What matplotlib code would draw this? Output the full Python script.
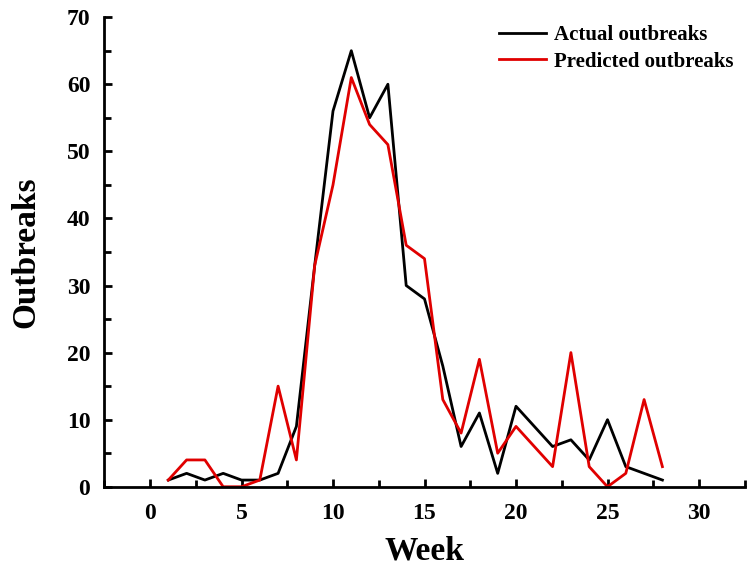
import matplotlib.pyplot as plt
from matplotlib.ticker import MultipleLocator

weeks = list(range(1, 29))
actual = [1, 2, 1, 2, 1, 1, 2, 9, 33, 56, 65, 55, 60, 30,
          28, 18, 6, 11, 2, 12, 9, 6, 7, 4, 10, 3, 2, 1]
predicted = [1, 4, 4, 0, 0, 1, 15, 4, 33, 45, 61, 54, 51, 36,
             34, 13, 8, 19, 5, 9, 6, 3, 20, 3, 0, 2, 13, 3]

plt.rcParams["font.family"] = "Liberation Serif"
plt.rcParams["font.weight"] = "bold"

fig = plt.figure(figsize=(7.5, 5.72), dpi=100)
ax = fig.add_axes([0.139, 0.149, 0.854, 0.821])

ax.plot(weeks, actual, color="black", lw=2, label="Actual outbreaks")
ax.plot(weeks, predicted, color="#e00000", lw=2, label="Predicted outbreaks")

ax.set_xlim(-2.5, 32.5)
ax.set_ylim(0, 70)
ax.xaxis.set_major_locator(MultipleLocator(5))
ax.xaxis.set_minor_locator(MultipleLocator(2.5))
ax.yaxis.set_major_locator(MultipleLocator(10))
ax.yaxis.set_minor_locator(MultipleLocator(5))

for side in ["top", "right"]:
    ax.spines[side].set_visible(False)
for side in ["left", "bottom"]:
    ax.spines[side].set_linewidth(2)

ax.tick_params(which="both", direction="in", width=2, labelsize=17)
ax.tick_params(which="major", length=6)
ax.tick_params(which="minor", length=5)
ax.tick_params(axis="x", pad=12)
ax.tick_params(axis="y", pad=10)

ax.set_xlabel("Week", fontsize=24, fontweight="bold", labelpad=8)
ax.set_ylabel("Outbreaks", fontsize=24, fontweight="bold", labelpad=18)

ax.legend(loc="upper right", frameon=False, fontsize=15, handlelength=2.3,
          handletextpad=0.35, borderaxespad=0.0, labelspacing=0.3,
          bbox_to_anchor=(0.995, 1.0))

fig.savefig("out.png", dpi=100)
